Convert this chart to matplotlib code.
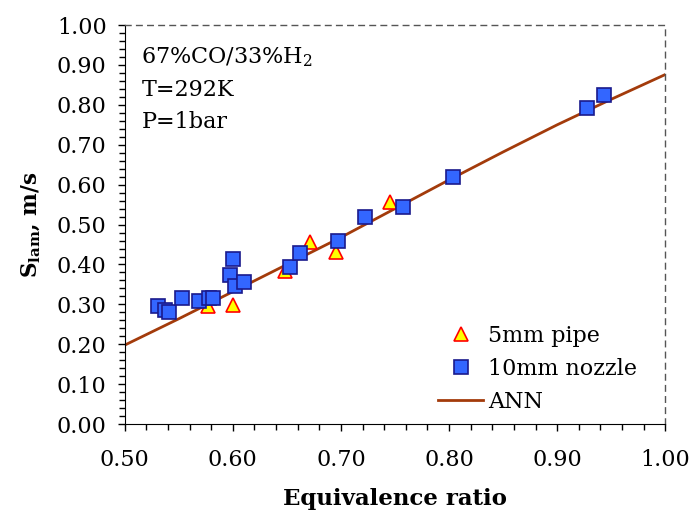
import matplotlib.pyplot as plt
from matplotlib.ticker import MultipleLocator, FormatStrFormatter

plt.rcParams['font.family'] = 'DejaVu Serif'
plt.rcParams['mathtext.fontset'] = 'dejavuserif'

# 5mm pipe (triangles)
pipe_phi = [0.577, 0.600, 0.648, 0.671, 0.695, 0.745]
pipe_s = [0.297, 0.298, 0.383, 0.457, 0.432, 0.556]

# 10mm nozzle (squares)
nozzle_phi = [0.531, 0.537, 0.541, 0.553, 0.569, 0.578, 0.582, 0.597, 0.600,
              0.602, 0.610, 0.653, 0.662, 0.697, 0.722, 0.757, 0.804, 0.928, 0.943]
nozzle_s = [0.296, 0.285, 0.281, 0.316, 0.308, 0.316, 0.316, 0.373, 0.414,
            0.346, 0.357, 0.393, 0.429, 0.459, 0.519, 0.545, 0.620, 0.791, 0.825]

# ANN prediction
ann_phi = [0.50, 0.55, 0.60, 0.65, 0.70, 0.75, 0.80, 0.85, 0.90, 0.95, 1.00]
ann_s = [0.198, 0.264, 0.332, 0.400, 0.468, 0.540, 0.612, 0.682, 0.750, 0.814, 0.876]

fig = plt.figure(figsize=(6.93, 5.11), dpi=100)
ax = fig.add_axes([0.180, 0.170, 0.780, 0.781])

ax.plot(pipe_phi, pipe_s, linestyle='none', marker='^', markersize=10,
        markerfacecolor='#ffff00', markeredgecolor='#ff0000', markeredgewidth=1.2,
        label='5mm pipe', zorder=3)
ax.plot(nozzle_phi, nozzle_s, linestyle='none', marker='s', markersize=9.5,
        markerfacecolor='#3366ff', markeredgecolor='#1a1a8c', markeredgewidth=1.2,
        label='10mm nozzle', zorder=4)
ax.plot(ann_phi, ann_s, color='#a33b0b', linewidth=2, label='ANN', zorder=2)

ax.set_xlim(0.5, 1.0)
ax.set_ylim(0.0, 1.0)
ax.xaxis.set_major_locator(MultipleLocator(0.1))
ax.xaxis.set_minor_locator(MultipleLocator(0.02))
ax.yaxis.set_major_locator(MultipleLocator(0.1))
ax.yaxis.set_minor_locator(MultipleLocator(0.02))
ax.xaxis.set_major_formatter(FormatStrFormatter('%.2f'))
ax.yaxis.set_major_formatter(FormatStrFormatter('%.2f'))
ax.tick_params(axis='both', which='both', direction='out', labelsize=16,
               width=1, color='black')
ax.tick_params(axis='both', which='major', length=5)
ax.tick_params(axis='both', which='minor', length=4)
ax.tick_params(axis='x', which='major', pad=13)
ax.tick_params(axis='y', which='major', pad=8)

for side in ['top', 'right']:
    ax.spines[side].set_linestyle((0, (4, 4)))
    ax.spines[side].set_color('#555555')
    ax.spines[side].set_linewidth(1)

ax.set_xlabel('Equivalence ratio', fontsize=16.5, fontweight='bold', labelpad=12)
ax.set_ylabel(r'$\mathbf{S_{lam}}$, m/s', fontsize=15.5, fontweight='bold', labelpad=10)

ax.text(0.031, 0.905, '67%CO/33%H$_2$', transform=ax.transAxes, fontsize=16, va='baseline')
ax.text(0.031, 0.822, 'T=292K', transform=ax.transAxes, fontsize=16, va='baseline')
ax.text(0.031, 0.742, 'P=1bar', transform=ax.transAxes, fontsize=16, va='baseline')

ax.legend(loc='lower right', frameon=False, fontsize=16, handlelength=2,
          handletextpad=0.25, labelspacing=0.5, borderpad=0.15,
          bbox_to_anchor=(0.975, -0.008))

fig.savefig('out.png', dpi=100)
